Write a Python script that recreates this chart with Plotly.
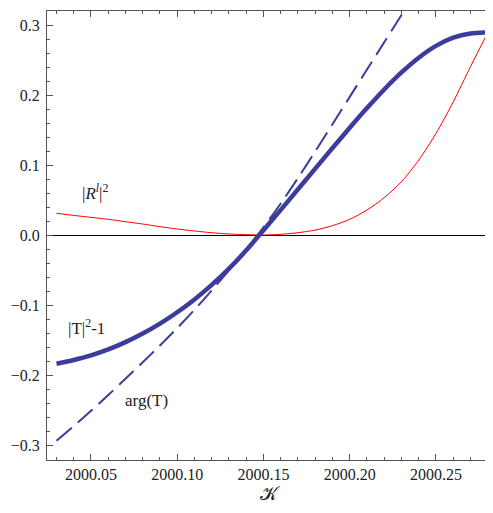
import plotly.graph_objects as go

# sample positions on the K axis
k = [2000.03, 2000.04, 2000.05, 2000.06, 2000.07, 2000.08, 2000.09, 2000.10,
     2000.11, 2000.12, 2000.13, 2000.14, 2000.15, 2000.16, 2000.17, 2000.18,
     2000.19, 2000.20, 2000.21, 2000.22, 2000.23, 2000.24, 2000.25, 2000.26,
     2000.27, 2000.28]

# |T|^2 - 1 (thick solid)
t_vals = [-0.184, -0.1786, -0.1720, -0.1635, -0.1530, -0.1407, -0.1265, -0.1103,
          -0.0920, -0.0713, -0.0481, -0.0219, 0.0069, 0.0359, 0.0653, 0.0948,
          0.1242, 0.1532, 0.1813, 0.2079, 0.2322, 0.2533, 0.2702, 0.2819,
          0.2879, 0.2894]

# |R^l|^2 (thin red)
r_vals = [0.031, 0.028, 0.0252, 0.0224, 0.019, 0.0157, 0.0119, 0.0086,
          0.0057, 0.0033, 0.0014, 0.0005, 0.0, 0.001, 0.0033, 0.0071,
          0.0133, 0.0224, 0.0357, 0.0533, 0.0762, 0.107, 0.145, 0.190,
          0.2405, 0.289]

# arg(T) (dashed), leaves the frame at the top
k_a = k[:21] + [2000.235]
a_vals = [-0.294, -0.273, -0.2512, -0.2286, -0.2054, -0.1818, -0.1578, -0.133,
          -0.1068, -0.0791, -0.0503, -0.0206, 0.011, 0.045, 0.0815, 0.1195,
          0.1583, 0.1973, 0.2363, 0.2753, 0.3143, 0.3338]

x_title = "𝒦"
blue = "#3c3c9c"
frame = "#555555"
font_family = "Liberation Serif"

fig = go.Figure()
fig.add_trace(go.Scatter(x=k, y=r_vals, mode="lines",
                         line=dict(color="#ff0000", width=1, shape="spline", smoothing=0.8)))
fig.add_trace(go.Scatter(x=k_a, y=a_vals, mode="lines",
                         line=dict(color=blue, width=2, dash="20px,8px", shape="spline", smoothing=0.8)))
fig.add_trace(go.Scatter(x=k, y=t_vals, mode="lines",
                         line=dict(color=blue, width=4.5, shape="spline", smoothing=0.8)))

axis_common = dict(showgrid=False, showline=True, linecolor=frame, linewidth=1,
                   mirror="allticks", ticks="inside", tickcolor=frame, ticklen=6, tickwidth=1,
                   tickfont=dict(family=font_family, size=16, color="#222222"))

fig.update_xaxes(range=[2000.0245, 2000.2819], tick0=2000.0, dtick=0.05, tickformat=".2f",
                 minor=dict(dtick=0.01, tick0=2000.0, ticks="inside", ticklen=3, tickcolor=frame),
                 zeroline=False,
                 title=dict(text=x_title, font=dict(family=font_family, size=19, color="#222222"), standoff=4),
                 **axis_common)
fig.update_yaxes(range=[-0.3214, 0.32], tick0=0, dtick=0.1, tickformat=".1f",
                 minor=dict(dtick=0.02, tick0=0, ticks="inside", ticklen=3, tickcolor=frame),
                 zeroline=True, zerolinecolor="#000000", zerolinewidth=1,
                 ticklabelstandoff=3,
                 **axis_common)

ann_font = dict(family=font_family, size=17, color="#222222")
fig.add_annotation(x=2000.0527, y=0.061, text="|<i>R</i><sup><i>l</i></sup>|<sup>2</sup>",
                   showarrow=False, font=ann_font)
fig.add_annotation(x=2000.0475, y=-0.131, text="|T|<sup>2</sup>-1", showarrow=False, font=ann_font)
fig.add_annotation(x=2000.0819, y=-0.237, text="arg(T)", showarrow=False, font=ann_font)

# the page body has an 8px default margin, so the figure is shrunk accordingly
fig.update_layout(width=485, height=505, showlegend=False,
                  margin=dict(l=39, r=2, t=3, b=53),
                  plot_bgcolor="white", paper_bgcolor="white")

fig.write_html("out.html")
